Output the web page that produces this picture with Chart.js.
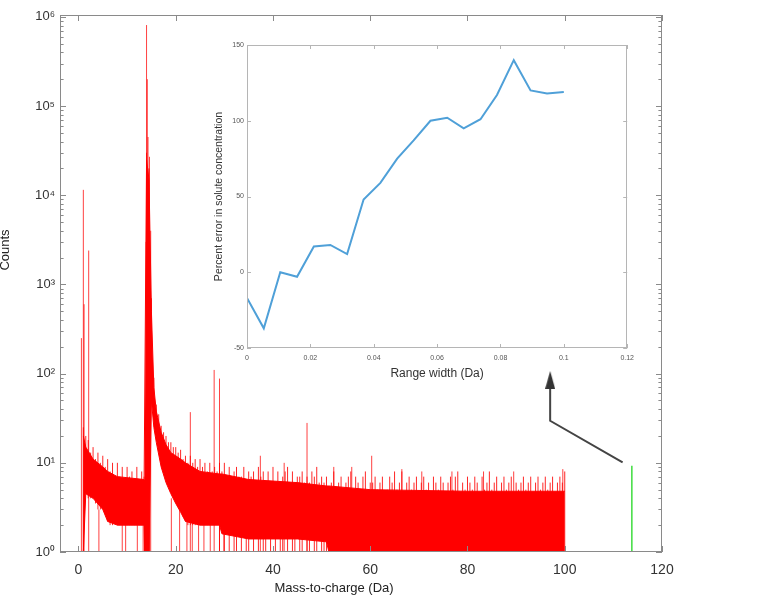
<!DOCTYPE html>
<html>
<head>
<meta charset="utf-8">
<script src="https://cdn.jsdelivr.net/npm/chart.js@4.4.1/dist/chart.umd.min.js"></script>
<style>
  body { margin: 0; background: #fff; }
  #wrap { position: relative; width: 760px; height: 603px; }
  #main { position: absolute; left: 0; top: 0; }
  #inset { position: absolute; left: 200px; top: 35px; }
</style>
</head>
<body>
<div id="wrap">
  <canvas id="main" width="760" height="603"></canvas>
  <canvas id="inset" width="440" height="355"></canvas>
</div>
<script>
// mass spectrum. specX in Da; specHi / specLo = top and
// bottom of the channel lines in each half-Da step
const specX = [
  1, 1.5, 2, 2.5, 3, 3.5, 4, 4.5, 5, 5.5,
  6, 6.5, 7, 7.5, 8, 8.5, 9, 9.5, 10, 10.5,
  11, 11.5, 12, 12.5, 13, 13.5, 14, 14.5, 15, 15.5,
  16, 16.5, 17, 17.5, 18, 18.5, 19, 19.5, 20, 20.5,
  21, 21.5, 22, 22.5, 23, 23.5, 24, 24.5, 25, 25.5,
  26, 26.5, 27, 27.5, 28, 28.5, 29, 29.5, 30, 30.5,
  31, 31.5, 32, 32.5, 33, 33.5, 34, 34.5, 35, 35.5,
  36, 36.5, 37, 37.5, 38, 38.5, 39, 39.5, 40, 40.5,
  41, 41.5, 42, 42.5, 43, 43.5, 44, 44.5, 45, 45.5,
  46, 46.5, 47, 47.5, 48, 48.5, 49, 49.5, 50, 50.5,
  51, 51.5, 52, 52.5, 53, 53.5, 54, 54.5, 55, 55.5,
  56, 56.5, 57, 57.5, 58, 58.5, 59, 59.5, 60, 60.5,
  61, 61.5, 62, 62.5, 63, 63.5, 64, 64.5, 65, 65.5,
  66, 66.5, 67, 67.5, 68, 68.5, 69, 69.5, 70, 70.5,
  71, 71.5, 72, 72.5, 73, 73.5, 74, 74.5, 75, 75.5,
  76, 76.5, 77, 77.5, 78, 78.5, 79, 79.5, 80, 80.5,
  81, 81.5, 82, 82.5, 83, 83.5, 84, 84.5, 85, 85.5,
  86, 86.5, 87, 87.5, 88, 88.5, 89, 89.5, 90, 90.5,
  91, 91.5, 92, 92.5, 93, 93.5, 94, 94.5, 95, 95.5,
  96, 96.5, 97, 97.5, 98, 98.5, 99, 99.5, 100
];
const specHi = [
  25, 20, 18, 13, 15, 11, 13, 10, 12, 9,
  11, 8, 10, 7, 10, 7, 9, 6, 9, 7,
  8, 6, 9, 6, 8, 7, 30000, 20000, 700, 90,
  45, 35, 26, 22, 20, 17, 17, 15, 15, 13,
  14, 11, 12, 10, 12, 10, 11, 9, 11, 9,
  10, 8, 10, 8, 9, 8, 10, 8, 10, 7,
  9, 7, 8, 9, 7, 7, 9, 6, 8, 7,
  8, 6, 9, 7, 8, 6, 8, 6, 9, 6,
  8, 6, 7, 8, 9, 6, 8, 6, 7, 7,
  8, 6, 7, 6, 8, 7, 9, 6, 7, 6,
  7, 5, 6, 8, 5, 6, 7, 5, 6, 7,
  8, 5, 7, 6, 4.5, 7, 8, 5, 6, 6,
  7, 5, 6, 7, 4.5, 5, 7, 6, 8, 5,
  6, 8, 4.5, 6, 7, 5, 6, 7, 4.5, 6,
  7, 5, 6, 4.5, 7, 6, 5, 7, 6, 4.5,
  6, 7, 5, 7, 8, 4.5, 6, 5, 7, 6,
  5, 7, 6, 4.5, 7, 5, 6, 8, 5, 6,
  7, 4.5, 6, 7, 5, 6, 7, 4.5, 6, 5,
  6, 7, 5, 6, 7, 4.5, 6, 7, 5, 6,
  7, 5, 6, 7, 4.5, 6, 7, 6, 8
];
const specLo = [
  1, 5, 4, 4, 4, 3.5, 3, 3, 3, 3,
  2.2, 2, 2, 2.2, 2, 2, 2, 2, 2, 2,
  2, 2, 2, 2, 2, 2, 1, 1, 60, 30,
  20, 14, 10, 8, 6.5, 5.5, 5, 4, 3.5, 3.2,
  3, 2.5, 2.2, 2, 2, 2, 2, 2, 2, 2,
  2, 2, 2, 2, 2, 2, 1, 2, 1, 2,
  1, 2, 1, 1, 2, 1, 2, 1, 1, 2,
  1, 2, 1, 2, 1, 1, 2, 1, 2, 1,
  2, 1, 1, 2, 1, 2, 1, 1, 2, 1,
  1, 2, 1, 1, 2, 1, 1, 2, 1, 1,
  1, 1, 1, 1, 1, 1, 1, 1, 1, 1,
  1, 1, 1, 1, 1, 1, 1, 1, 1, 1,
  1, 1, 1, 1, 1, 1, 1, 1, 1, 1,
  1, 1, 1, 1, 1, 1, 1, 1, 1, 1,
  1, 1, 1, 1, 1, 1, 1, 1, 1, 1,
  1, 1, 1, 1, 1, 1, 1, 1, 1, 1,
  1, 1, 1, 1, 1, 1, 1, 1, 1, 1,
  1, 1, 1, 1, 1, 1, 1, 1, 1, 1,
  1, 1, 1, 1, 1, 1, 1, 1, 1, 1,
  1, 1, 1, 1, 1, 1, 1, 1, 1
];
// solid body of the band (where the channel lines merge), coarse
const coreX  = [1, 1.5, 3, 5, 6, 8, 13.5, 13.6, 14, 14.5, 15, 15.5, 16, 17, 18, 19, 20, 21, 22, 25, 29, 29.5, 35, 45, 51, 51.5, 60, 80, 100];
const coreHi = [20, 15, 11, 9, 8, 7, 6.5, 6.5, 25000, 15000, 500, 70, 38, 22, 16, 13, 12, 11, 10, 8, 7.5, 7.5, 6.5, 6, 5.5, 5.5, 5, 4.8, 4.8];
const coreLo = [1, 4.5, 4, 3, 2.2, 2, 2, 1, 1, 1, 50, 25, 17, 9, 6, 4.5, 3.5, 2.8, 2.2, 2, 2, 1.6, 1.4, 1.4, 1.3, 1, 1, 1, 1];
// single-channel lines (peaks and empty-channel drops), Da and counts
const peakX = [0.6, 1.0, 1.15, 2.1, 4.2, 9.0, 9.7, 12.1, 13.3, 13.9, 14.0, 14.15, 14.3, 14.6, 14.85,
  19.1, 20.8, 22.3, 23.0, 23.4, 24.7, 25.8, 27.1, 27.9, 29.0, 29.9, 37.4, 42.3, 47.0,
  52.5, 56.2, 60.3, 66.5, 70.6, 76.8, 83.3, 89.5, 99.6];
const peakY = [250, 11500, 600, 2400, 3, 2.5, 2.5, 2.5, 2.5, 3000, 810000, 200000, 45000, 27000, 4000,
  4, 3.5, 2.5, 37, 2.5, 2.5, 2.5, 2.5, 110, 88, 4, 12, 10, 28,
  9, 9, 12, 8.5, 8, 8, 8, 8, 8.5];
const markerX = [113.8, 113.8];
const markerY = [1, 9.3];
const arrowX = [111.9, 97.0, 97.0];
const arrowY = [10.1, 29.6, 85];
const massTicks = [0, 20, 40, 60, 80, 100, 120];
const countTicks = [1, 10, 100, 1000, 10000, 100000, 1000000];
const countLabels = ['10⁰', '10¹', '10²', '10³', '10⁴', '10⁵', '10⁶'];

// inset: percent error vs range width
const widthX = [0, 0.0053, 0.0105, 0.0158, 0.0211, 0.0263, 0.0316, 0.0368, 0.0421, 0.0474,
  0.0526, 0.0579, 0.0632, 0.0684, 0.0737, 0.0789, 0.0842, 0.0895, 0.0947, 0.1];
const errorY = [-17, -37, 0, -3, 17, 18, 12, 48, 59, 75, 87, 100, 102, 95, 101, 117, 140, 120, 118, 119];
const widthTicks = [0, 0.02, 0.04, 0.06, 0.08, 0.1, 0.12];
const widthLabels = ['0', '0.02', '0.04', '0.06', '0.08', '0.1', '0.12'];
const errorTicks = [-50, 0, 50, 100, 150];

const FONT = "'Liberation Sans', Arial, sans-serif";

// box round the plot area with inward tick marks, matlab style
const boxTicks = {
  id: 'boxTicks',
  defaults: { color: '#999', len: 5 },
  afterDatasetsDraw(chart, args, opts) {
    const ctx = chart.ctx, a = chart.chartArea;
    const xs = chart.scales.x, ys = chart.scales.y;
    ctx.save();
    ctx.strokeStyle = opts.color;
    ctx.lineWidth = 1;
    ctx.beginPath();
    const mark = (x1, y1, x2, y2) => { ctx.moveTo(x1, y1); ctx.lineTo(x2, y2); };
    xs.ticks.forEach(t => {
      const px = Math.round(xs.getPixelForValue(t.value)) + 0.5;
      mark(px, a.bottom, px, a.bottom - opts.len);
      mark(px, a.top, px, a.top + opts.len);
    });
    const yMark = (v, len) => {
      const py = Math.round(ys.getPixelForValue(v)) + 0.5;
      mark(a.left, py, a.left + len, py);
      mark(a.right, py, a.right - len, py);
    };
    ys.ticks.forEach((t, i) => {
      yMark(t.value, opts.len);
      if (ys.type === 'logarithmic' && i < ys.ticks.length - 1) {
        for (let m = 2; m < 10; m++) yMark(t.value * m, opts.len * 0.6);
      }
    });
    ctx.stroke();
    ctx.strokeRect(Math.round(a.left) + 0.5, Math.round(a.top) + 0.5,
      Math.round(a.right - a.left) - 1, Math.round(a.bottom - a.top) - 1);
    ctx.restore();
  }
};

// axis titles of the main plot sit off-centre in the original, so place them by hand
const mainTitles = {
  id: 'mainTitles',
  afterDraw(chart) {
    const ctx = chart.ctx;
    ctx.save();
    ctx.fillStyle = '#222';
    ctx.font = '13px ' + FONT;
    ctx.textAlign = 'center';
    ctx.textBaseline = 'middle';
    ctx.fillText('Mass-to-charge (Da)', 334, 588);
    ctx.translate(5, 250);
    ctx.rotate(-Math.PI / 2);
    ctx.fillText('Counts', 0, 0);
    ctx.restore();
  }
};

// arrow head as a small canvas used for the last arrow point
const head = document.createElement('canvas');
head.width = 10; head.height = 18;
const hc = head.getContext('2d');
hc.fillStyle = '#333';
hc.beginPath(); hc.moveTo(5, 0); hc.lineTo(10, 18); hc.lineTo(0, 18); hc.closePath(); hc.fill();

const xy = (xs, ys) => xs.map((x, i) => ({ x: x, y: ys[i] }));
// vertical segments, separated by gaps
const sticks = (xs, lo, hi) => {
  const out = [];
  xs.forEach((x, i) => { out.push({ x: x, y: lo[i] }, { x: x, y: hi[i] }, { x: x, y: null }); });
  return out;
};

new Chart(document.getElementById('main'), {
  type: 'line',
  data: {
    datasets: [{
      label: 'arrow',
      data: xy(arrowX, arrowY),
      borderColor: '#444',
      borderWidth: 2,
      pointRadius: [0, 0, 6],
      pointStyle: ctx => ctx.dataIndex === 2 ? head : 'circle',
      fill: false
    }, {
      label: 'marker',
      data: xy(markerX, markerY),
      borderColor: '#3ddc3d',
      borderWidth: 1.5,
      pointRadius: 0,
      fill: false
    }, {
      label: 'channels',
      data: sticks(specX, specLo, specHi),
      borderColor: 'rgba(255,0,0,0.85)',
      borderWidth: 1,
      pointRadius: 0,
      spanGaps: false,
      fill: false
    }, {
      label: 'core top',
      data: xy(coreX, coreHi),
      borderColor: '#ff0000',
      borderWidth: 1,
      pointRadius: 0,
      fill: false
    }, {
      label: 'core bottom',
      data: xy(coreX, coreLo),
      borderColor: '#ff0000',
      backgroundColor: '#ff0000',
      borderWidth: 1,
      pointRadius: 0,
      fill: '-1'
    }, {
      label: 'lines',
      data: sticks(peakX, peakX.map(() => 1), peakY),
      borderColor: 'rgba(255,0,0,0.75)',
      borderWidth: 1,
      pointRadius: 0,
      spanGaps: false,
      fill: false
    }]
  },
  options: {
    responsive: false,
    animation: false,
    layout: { padding: { left: 0, top: 15, right: 98, bottom: 0 } },
    plugins: { legend: { display: false }, tooltip: { enabled: false }, boxTicks: { color: '#8a8a8a', len: 6 } },
    scales: {
      x: {
        type: 'linear', min: -3.8, max: 120,
        afterBuildTicks: s => { s.ticks = massTicks.map(v => ({ value: v })); },
        afterFit: s => { s.height = 51; },
        grid: { display: false, drawTicks: false },
        border: { display: false },
        ticks: { autoSkip: false, maxRotation: 0, padding: 10, color: '#333', font: { family: FONT, size: 14 } }
      },
      y: {
        type: 'logarithmic', min: 1, max: 1.05e6,
        afterBuildTicks: s => { s.ticks = countTicks.map(v => ({ value: v, major: true })); },
        afterFit: s => { s.width = 60; },
        grid: { display: false, drawTicks: false },
        border: { display: false },
        ticks: {
          autoSkip: false, padding: 5, color: '#333', font: { family: FONT, size: 13 },
          callback: v => { const k = countTicks.indexOf(v); return k < 0 ? '' : countLabels[k]; }
        }
      }
    }
  },
  plugins: [boxTicks, mainTitles]
});

new Chart(document.getElementById('inset'), {
  type: 'line',
  data: {
    datasets: [{
      label: 'error',
      data: xy(widthX, errorY),
      borderColor: '#4fa0d8',
      borderWidth: 2,
      pointRadius: 0,
      fill: false
    }]
  },
  options: {
    responsive: false,
    animation: false,
    layout: { padding: { left: 0, top: 10, right: 10, bottom: 0 } },
    plugins: { legend: { display: false }, tooltip: { enabled: false }, boxTicks: { color: '#b5b5b5', len: 4 } },
    scales: {
      x: {
        type: 'linear', min: 0, max: 0.12,
        afterBuildTicks: s => { s.ticks = widthTicks.map(v => ({ value: v })); },
        afterFit: s => { s.height = 42; },
        grid: { display: false, drawTicks: false },
        border: { display: false },
        ticks: {
          autoSkip: false, maxRotation: 0, padding: 6, color: '#555', font: { family: FONT, size: 7 },
          callback: v => { const k = widthTicks.indexOf(v); return k < 0 ? '' : widthLabels[k]; }
        },
        title: { display: true, text: 'Range width (Da)', color: '#333', padding: { top: 0, bottom: 9 }, font: { family: FONT, size: 12 } }
      },
      y: {
        type: 'linear', min: -50, max: 150,
        afterBuildTicks: s => { s.ticks = errorTicks.map(v => ({ value: v })); },
        afterFit: s => { s.width = 47; },
        grid: { display: false, drawTicks: false },
        border: { display: false },
        ticks: { autoSkip: false, padding: 3, color: '#555', font: { family: FONT, size: 7 } },
        title: { display: true, text: 'Percent error in solute concentration', color: '#333', padding: { top: 13, bottom: 0 }, font: { family: FONT, size: 10.5 } }
      }
    }
  },
  plugins: [boxTicks]
});
</script>
</body>
</html>
